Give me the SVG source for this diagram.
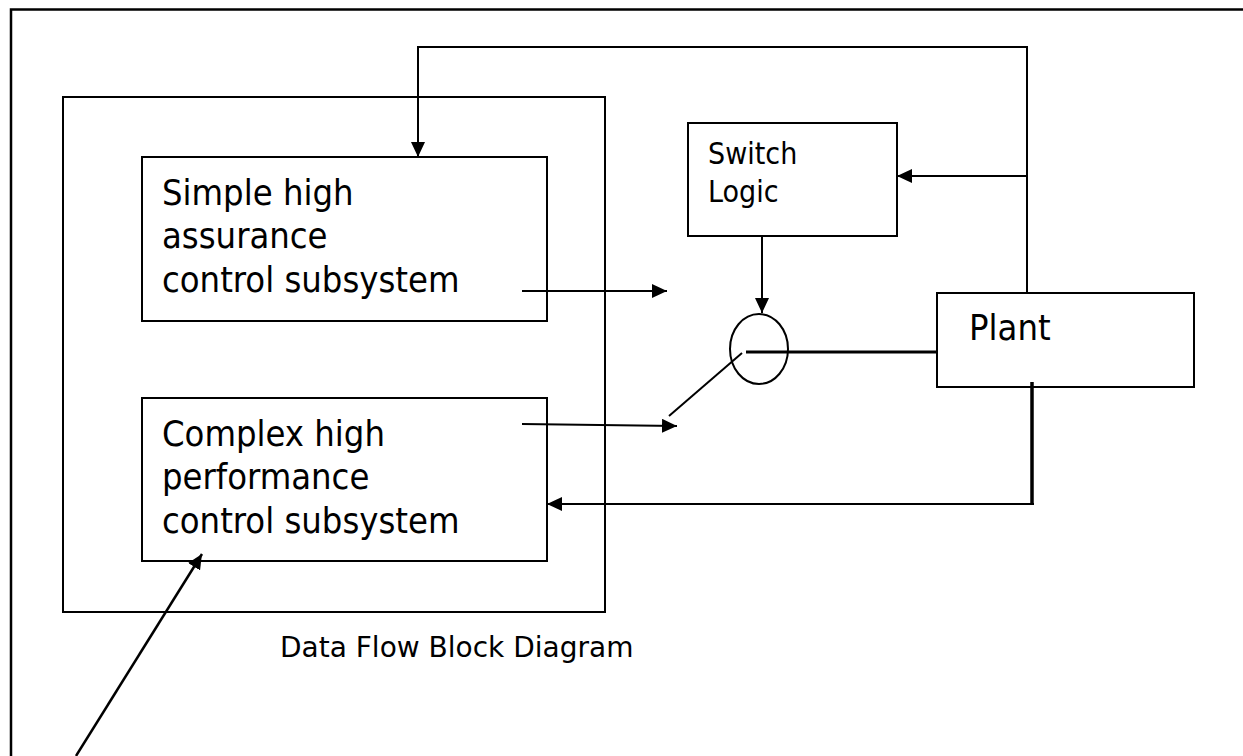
<svg xmlns="http://www.w3.org/2000/svg" width="1243" height="756" viewBox="0 0 1243 756">
<style>
  .box { fill: #ffffff; stroke: #000000; stroke-width: 2; }
  .wire { fill: none; stroke: #000000; stroke-width: 2; }
  .thick { fill: none; stroke: #000000; stroke-width: 3.5; }
  .big { font-family: "DejaVu Sans Condensed", "DejaVu Sans", sans-serif; font-stretch: condensed; font-size: 36px; fill: #000000; }
  .mid { font-family: "DejaVu Sans Condensed", "DejaVu Sans", sans-serif; font-stretch: condensed; font-size: 30px; fill: #000000; }
  .cap { font-family: "DejaVu Sans", sans-serif; font-size: 28px; fill: #000000; }
</style>
<defs>
  <marker id="arrow" markerUnits="userSpaceOnUse" markerWidth="16" markerHeight="14" refX="15" refY="7" orient="auto">
    <path d="M0,0 L15,7 L0,14 z" fill="#000000"/>
  </marker>
</defs>
<rect x="0" y="0" width="1243" height="756" fill="#ffffff"/>
<path d="M11,756 V9.5 H1245" fill="none" stroke="#000000" stroke-width="2.5"/>

<g id="container">
  <rect class="box" x="63" y="97" width="542" height="515"/>
</g>

<g id="simple">
  <rect class="box" x="142" y="157" width="405" height="164"/>
  <text class="big" x="162" y="205">Simple high</text>
  <text class="big" x="162" y="248">assurance</text>
  <text class="big" x="162" y="292">control subsystem</text>
</g>

<g id="complex">
  <rect class="box" x="142" y="398" width="405" height="163"/>
  <text class="big" x="162" y="446">Complex high</text>
  <text class="big" x="162" y="489">performance</text>
  <text class="big" x="162" y="533">control subsystem</text>
</g>

<g id="switch-logic">
  <rect class="box" x="688" y="123" width="209" height="113"/>
  <text class="mid" x="708" y="164">Switch</text>
  <text class="mid" x="708" y="202">Logic</text>
</g>

<g id="switch">
  <ellipse class="wire" cx="759" cy="349" rx="29" ry="35"/>
</g>

<g id="plant">
  <rect class="box" x="937" y="293" width="257" height="94"/>
  <text class="big" x="969" y="340">Plant</text>
</g>

<g id="caption">
  <text class="cap" x="280" y="657">Data Flow Block Diagram</text>
</g>

<g id="connectors">
  <path class="wire" d="M1027,293 V47 H418 V157" marker-end="url(#arrow)"/>
  <path class="wire" d="M1027,176 H897" marker-end="url(#arrow)"/>
  <path class="wire" d="M762,236 V313" marker-end="url(#arrow)"/>
  <path class="wire" d="M522,291 H667" marker-end="url(#arrow)"/>
  <path class="wire" d="M522,424 L677,426" marker-end="url(#arrow)"/>
  <path class="wire" d="M742,353 L669,416"/>
  <path class="thick" d="M746,352 H937" style="stroke-width:3"/>
  <path class="thick" d="M1032,382 V504"/>
  <path class="wire" d="M1034,504 H547" marker-end="url(#arrow)"/>
  <path class="wire" d="M76,756 L202,554" stroke-width="2.5" style="stroke-width:2.5" marker-end="url(#arrow)"/>
</g>
</svg>
